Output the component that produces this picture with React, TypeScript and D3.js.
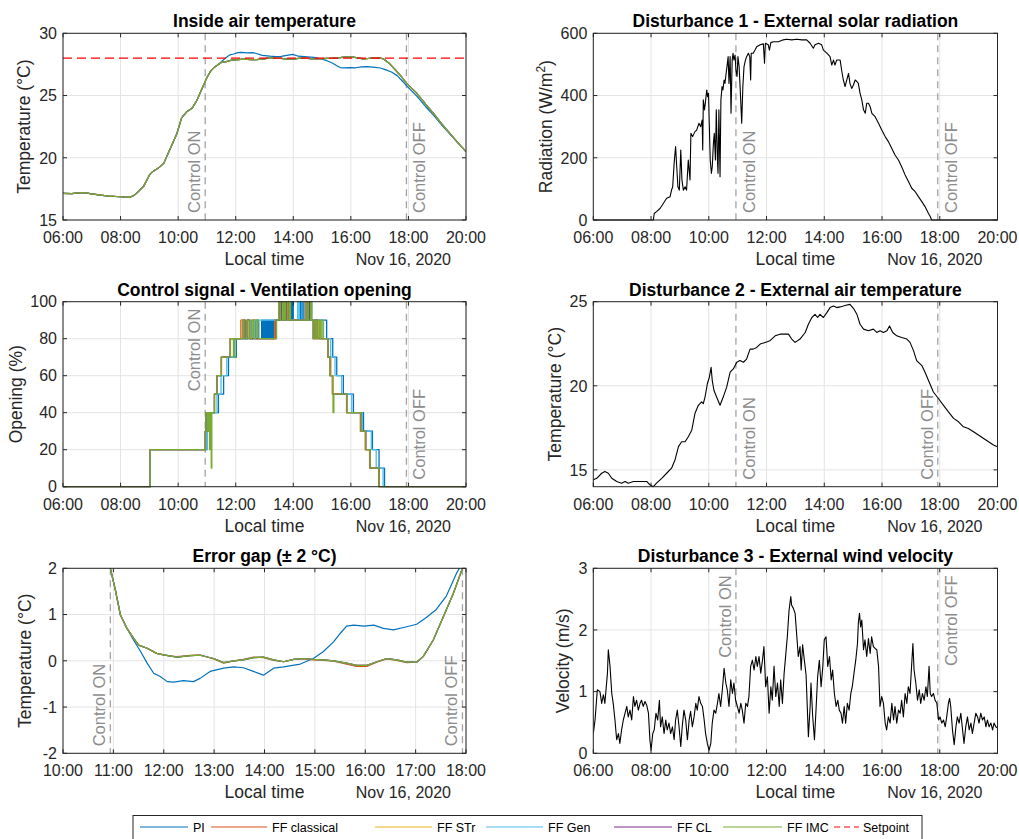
import React from 'react';
import * as d3 from 'd3';

// ---------- style constants ----------
const FONT = '"Liberation Sans", Arial, Helvetica, sans-serif';
const AX = '#262626';
const GRID = '#e4e4e4';
const CTRL = '#a3a3a3';
const COLORS = {
  PI: '#0072BD',
  classical: '#D95319',
  STr: '#EDB120',
  Gen: '#4DBEEE',
  CL: '#7E2F8E',
  IMC: '#77AC30',
  setpoint: '#FF0000',
};

// ---------- data ----------
type P = [number, number];
const hourTicks = [6, 8, 10, 12, 14, 16, 18, 20];
const errHourTicks = [10, 11, 12, 13, 14, 15, 16, 17, 18];
const tempTicks = [15, 20, 25, 30];
const radTicks = [0, 200, 400, 600];
const openTicks = [0, 20, 40, 60, 80, 100];
const extTempTicks = [15, 20, 25];
const errTicks = [-2, -1, 0, 1, 2];
const windTicks = [0, 1, 2, 3];
const controlOn = 10.94;
const controlOff = 17.93;
const setpoint = 28;
const dateLabel = 'Nov 16, 2020';

const legendNames = ['PI', 'FF classical', 'FF STr', 'FF Gen', 'FF CL', 'FF IMC', 'Setpoint'];

// Inside air temperature
const tempCommon: P[] = [
  [6.0, 17.14], [6.3, 17.12], [6.55, 17.18], [6.72, 17.2], [7.0, 17.1], [7.3, 17.0], [7.6, 16.92],
  [8.0, 16.87], [8.3, 16.82], [8.45, 16.95], [8.55, 17.14], [8.8, 17.7], [9.0, 18.6], [9.1, 18.85],
  [9.3, 19.15], [9.5, 19.55], [9.72, 20.7], [9.95, 21.9], [10.12, 23.2], [10.3, 23.7], [10.48, 23.97],
  [10.65, 24.6], [10.82, 25.5], [11.0, 26.45], [11.14, 27.0], [11.27, 27.3], [11.4, 27.5],
];
const tempFFTail: P[] = [
  [11.5, 27.66], [11.67, 27.73], [11.86, 27.84], [12.0, 27.87], [12.26, 27.92], [12.53, 27.89],
  [12.72, 27.88], [12.99, 27.95], [13.19, 28.04], [13.39, 28.0], [13.58, 27.98], [13.78, 27.93],
  [13.98, 27.92], [14.18, 27.98], [14.38, 28.02], [14.58, 27.97], [14.78, 27.95], [14.97, 27.97],
  [15.17, 27.98], [15.37, 28.0], [15.63, 28.05], [15.83, 28.1], [16.03, 28.1], [16.23, 28.02],
  [16.43, 27.95], [16.62, 27.98], [16.82, 28.03], [17.02, 28.03], [17.15, 27.91], [17.35, 27.55],
  [17.55, 27.05], [17.75, 26.54], [17.93, 26.0], [18.29, 25.18], [18.6, 24.3], [18.87, 23.57],
  [19.15, 22.75], [19.44, 21.96], [19.72, 21.2], [20.0, 20.49],
];
const tempPITail: P[] = [
  [11.54, 27.8], [11.67, 28.05], [11.8, 28.27], [11.93, 28.34], [12.07, 28.45], [12.2, 28.46],
  [12.39, 28.43], [12.59, 28.45], [12.72, 28.38], [12.92, 28.23], [13.19, 28.16], [13.39, 28.13],
  [13.58, 28.15], [13.78, 28.23], [13.98, 28.31], [14.18, 28.16], [14.38, 28.13], [14.71, 28.07],
  [14.97, 27.95], [15.17, 27.8], [15.37, 27.59], [15.5, 27.41], [15.63, 27.25], [15.77, 27.23],
  [15.97, 27.25], [16.17, 27.23], [16.36, 27.3], [16.56, 27.33], [16.76, 27.28], [17.02, 27.21],
  [17.22, 27.06], [17.41, 26.89], [17.61, 26.6], [17.81, 26.11], [17.93, 25.8], [18.29, 24.95],
  [18.6, 24.1], [18.87, 23.42], [19.15, 22.65], [19.44, 21.9], [19.72, 21.2], [20.0, 20.49],
];
const tempPI: P[] = [...tempCommon, ...tempPITail];
const tempFF: P[] = [...tempCommon, ...tempFFTail];
const setpointLine: P[] = [[6, setpoint], [20, setpoint]];

// External solar radiation (W/m2)
const radiation: P[] = [
  [6.0, 0], [8.08, 0], [8.11, 21], [8.19, 27], [8.31, 37], [8.43, 54], [8.54, 70], [8.66, 75], [8.71, 96],
  [8.75, 107], [8.8, 182], [8.85, 236], [8.89, 171], [8.93, 107], [8.98, 96], [9.03, 225], [9.07, 129],
  [9.12, 96], [9.18, 107], [9.23, 96], [9.29, 193], [9.35, 129], [9.38, 279], [9.44, 268], [9.52, 284],
  [9.58, 289], [9.66, 311], [9.72, 300], [9.77, 321], [9.79, 225], [9.81, 386], [9.85, 354], [9.88, 375],
  [9.93, 418], [9.96, 396], [9.99, 407], [10.02, 300], [10.05, 193], [10.09, 150], [10.12, 171],
  [10.16, 246], [10.19, 279], [10.23, 193], [10.26, 354], [10.3, 193], [10.32, 150], [10.35, 354],
  [10.39, 139], [10.42, 386], [10.46, 429], [10.49, 418], [10.53, 450], [10.56, 439], [10.6, 471],
  [10.63, 493], [10.67, 525], [10.7, 439], [10.74, 525], [10.77, 343], [10.81, 514], [10.84, 536],
  [10.87, 514], [10.91, 530], [10.94, 482], [10.98, 461], [11.01, 525], [11.05, 493], [11.09, 418],
  [11.14, 311], [11.18, 429], [11.22, 493], [11.27, 514], [11.31, 525], [11.37, 536], [11.42, 525],
  [11.45, 450], [11.47, 536], [11.54, 536], [11.6, 546], [11.66, 557], [11.78, 563], [11.89, 566],
  [11.93, 504], [11.96, 568], [12.06, 563], [12.1, 546], [12.15, 570], [12.24, 573], [12.41, 573],
  [12.58, 579], [12.7, 581], [12.87, 579], [13.05, 581], [13.22, 579], [13.39, 579], [13.51, 568],
  [13.62, 552], [13.68, 563], [13.8, 568], [13.91, 563], [13.97, 546], [14.09, 536], [14.2, 525],
  [14.26, 498], [14.32, 514], [14.37, 498], [14.43, 514], [14.55, 514], [14.6, 482], [14.66, 450],
  [14.72, 429], [14.78, 450], [14.84, 471], [14.89, 439], [14.95, 423], [15.01, 434], [15.07, 450],
  [15.13, 445], [15.18, 439], [15.24, 407], [15.3, 386], [15.36, 354], [15.42, 343], [15.47, 375],
  [15.53, 375], [15.59, 364], [15.65, 343], [15.76, 332], [15.88, 311], [15.99, 289], [16.11, 268],
  [16.22, 252], [16.34, 230], [16.45, 209], [16.57, 193], [16.68, 171], [16.8, 145], [16.92, 123],
  [17.03, 102], [17.15, 91], [17.26, 75], [17.38, 59], [17.49, 43], [17.61, 21], [17.67, 11],
  [17.72, 0], [20.0, 0],
];

// Control signal (ventilation opening %), step change points
const ctrlPI: P[] = [
  [6, 0], [9.03, 20], [11.0, 30], [11.05, 40], [11.1, 30], [11.13, 40], [11.4, 50], [11.58, 60],
  [11.75, 70], [12.02, 80], [12.62, 90], [12.68, 80], [12.75, 90], [12.8, 80], [12.9, 90], [12.93, 80],
  [12.96, 90], [12.99, 80], [13.02, 90], [13.05, 80], [13.08, 90], [13.11, 80], [13.14, 90], [13.17, 80],
  [13.2, 90], [13.23, 80], [13.26, 90], [13.29, 80], [13.32, 90], [13.89, 100], [13.94, 90], [13.97, 100],
  [14.0, 90], [14.24, 100], [14.28, 90], [14.32, 100], [14.36, 90], [14.4, 100], [14.46, 90], [14.5, 100],
  [14.56, 90], [14.6, 100], [14.64, 90], [15.16, 80], [15.37, 70], [15.51, 60], [15.74, 50], [16.09, 40],
  [16.44, 30], [16.75, 20], [16.98, 10], [17.17, 0], [20, 0],
];
const ctrlFFClassical: P[] = [
  [6, 0], [9.03, 20], [10.94, 30], [10.96, 40], [11.03, 30], [11.07, 40], [11.26, 50], [11.35, 60],
  [11.5, 70], [11.81, 80], [12.18, 90], [12.3, 80], [12.38, 90], [12.5, 80], [12.58, 90], [12.72, 80],
  [13.35, 90], [13.52, 100], [13.6, 90], [13.75, 100], [13.83, 90], [14.42, 100], [14.5, 90], [14.72, 80],
  [14.8, 90], [14.9, 80], [15.2, 70], [15.3, 60], [15.38, 50], [15.85, 40], [16.33, 30], [16.5, 20],
  [16.65, 10], [16.97, 0], [20, 0],
];
const ctrlFFSTr: P[] = [
  [6, 0], [9.03, 20], [10.95, 30], [10.97, 40], [11.04, 30], [11.08, 40], [11.27, 50], [11.36, 60],
  [11.51, 70], [11.82, 80], [12.22, 90], [12.34, 80], [12.42, 90], [12.52, 80], [12.6, 90], [12.74, 80],
  [13.38, 90], [13.5, 100], [13.58, 90], [14.45, 100], [14.52, 90], [14.7, 80], [14.85, 90], [14.95, 80],
  [15.2, 70], [15.29, 60], [15.37, 50], [15.86, 40], [16.35, 30], [16.51, 20], [16.66, 10], [16.98, 0],
  [20, 0],
];
const ctrlFFGen: P[] = [
  [6, 0], [9.03, 20], [10.97, 30], [11.0, 40], [11.08, 30], [11.12, 40], [11.35, 50], [11.49, 60],
  [11.69, 70], [11.92, 80], [12.4, 90], [12.5, 80], [12.56, 90], [12.64, 80], [12.72, 90], [13.6, 100],
  [13.66, 90], [14.15, 100], [14.2, 90], [14.3, 100], [14.38, 90], [15.05, 80], [15.3, 70], [15.45, 60],
  [15.68, 50], [16.03, 40], [16.4, 30], [16.71, 20], [16.88, 10], [17.12, 0], [20, 0],
];
const ctrlFFCL: P[] = [
  [6, 0], [9.03, 20], [10.94, 30], [10.96, 40], [11.02, 30], [11.05, 40], [11.26, 50], [11.35, 60],
  [11.5, 70], [11.81, 80], [12.25, 90], [12.33, 80], [12.41, 90], [12.48, 80], [13.4, 90], [13.54, 100],
  [13.58, 90], [13.7, 100], [13.78, 90], [14.48, 100], [14.55, 90], [14.69, 80], [14.76, 90],
  [14.82, 80], [15.21, 70], [15.27, 60], [15.36, 50], [15.86, 40], [16.36, 30], [16.52, 20],
  [16.67, 10], [16.98, 0], [20, 0],
];
const ctrlFFIMC: P[] = [
  [6, 0], [9.03, 20], [10.94, 30], [10.96, 40], [11.02, 30], [11.05, 40], [11.09, 20], [11.12, 40],
  [11.15, 10], [11.17, 40], [11.26, 50], [11.35, 60], [11.5, 70], [11.81, 80], [11.93, 70], [11.96, 80],
  [12.24, 90], [12.32, 80], [12.4, 90], [12.47, 80], [12.55, 90], [12.62, 80], [12.7, 90], [12.78, 80],
  [13.42, 90], [13.49, 100], [13.55, 90], [13.64, 100], [13.68, 90], [13.72, 100], [13.8, 90],
  [13.86, 100], [13.9, 90], [14.47, 100], [14.52, 90], [14.6, 100], [14.64, 90], [14.69, 80],
  [14.75, 90], [14.8, 80], [14.86, 90], [14.92, 80], [14.97, 90], [15.03, 80], [15.21, 70], [15.27, 60],
  [15.36, 50], [15.38, 40], [15.41, 50], [15.86, 40], [16.36, 30], [16.52, 20], [16.67, 10],
  [16.98, 0], [20, 0],
];

// External air temperature
const extTemp: P[] = [
  [6.0, 14.41], [6.12, 14.5], [6.29, 14.8], [6.4, 14.9], [6.52, 14.8], [6.64, 14.5], [6.81, 14.31],
  [6.98, 14.21], [7.1, 14.31], [7.21, 14.21], [7.39, 14.31], [7.62, 14.31], [7.85, 14.31], [7.96, 14.11],
  [8.08, 14.0], [8.19, 14.21], [8.37, 14.5], [8.54, 14.8], [8.71, 15.1], [8.83, 15.59], [8.95, 16.38],
  [9.06, 16.67], [9.18, 16.67], [9.29, 16.97], [9.41, 17.36], [9.52, 18.35], [9.64, 18.84],
  [9.75, 19.04], [9.81, 18.94], [9.87, 19.33], [9.95, 20.12], [10.02, 20.51], [10.08, 21.1],
  [10.12, 20.31], [10.18, 19.72], [10.27, 19.33], [10.39, 18.84], [10.5, 19.33], [10.62, 19.92],
  [10.74, 20.81], [10.85, 21.0], [10.97, 21.4], [11.08, 21.5], [11.2, 21.4], [11.31, 21.59],
  [11.43, 22.18], [11.54, 22.18], [11.66, 22.28], [11.78, 22.48], [11.95, 22.58], [12.12, 22.68],
  [12.3, 22.97], [12.47, 23.07], [12.64, 23.07], [12.76, 23.07], [12.87, 22.78], [12.99, 22.58],
  [13.16, 22.78], [13.34, 23.17], [13.45, 23.66], [13.57, 24.06], [13.68, 24.25], [13.77, 24.06],
  [13.85, 24.25], [13.97, 24.06], [14.09, 24.35], [14.2, 24.65], [14.32, 24.74], [14.43, 24.65],
  [14.55, 24.69], [14.66, 24.74], [14.78, 24.8], [14.89, 24.84], [15.01, 24.61], [15.13, 24.25],
  [15.24, 23.66], [15.36, 23.37], [15.53, 23.27], [15.7, 23.37], [15.82, 23.17], [15.93, 23.27],
  [16.05, 23.17], [16.17, 23.27], [16.26, 23.56], [16.37, 23.17], [16.51, 22.97], [16.68, 22.87],
  [16.86, 22.78], [16.97, 22.58], [17.09, 22.09], [17.2, 21.5], [17.38, 21.2], [17.49, 20.81],
  [17.61, 20.31], [17.78, 19.63], [17.96, 19.23], [18.13, 18.84], [18.3, 18.45], [18.48, 18.06],
  [18.65, 17.86], [18.82, 17.56], [18.99, 17.46], [19.17, 17.27], [19.34, 17.07], [19.52, 16.87],
  [19.69, 16.67], [19.86, 16.48], [20.0, 16.38],
];

// Error gap (setpoint - inside temperature)
const errPI: P[] = [
  [10.94, 2.0], [11.04, 1.53], [11.14, 0.99], [11.27, 0.7], [11.4, 0.45], [11.54, 0.2], [11.67, -0.05],
  [11.8, -0.27], [11.93, -0.34], [12.07, -0.45], [12.2, -0.46], [12.39, -0.43], [12.59, -0.45],
  [12.72, -0.38], [12.92, -0.23], [13.19, -0.16], [13.39, -0.13], [13.58, -0.15], [13.78, -0.23],
  [13.98, -0.31], [14.18, -0.16], [14.38, -0.13], [14.71, -0.07], [14.97, 0.05], [15.17, 0.2],
  [15.37, 0.41], [15.5, 0.59], [15.63, 0.75], [15.77, 0.77], [15.97, 0.75], [16.17, 0.77],
  [16.36, 0.7], [16.56, 0.67], [16.76, 0.72], [17.02, 0.79], [17.22, 0.94], [17.41, 1.11],
  [17.61, 1.4], [17.81, 1.89], [17.87, 2.0],
];
const errFF: P[] = [
  [10.94, 2.0], [11.04, 1.53], [11.14, 0.99], [11.27, 0.7], [11.4, 0.49], [11.5, 0.34], [11.67, 0.27],
  [11.86, 0.16], [12.0, 0.13], [12.26, 0.08], [12.53, 0.11], [12.72, 0.12], [12.99, 0.05],
  [13.19, -0.04], [13.39, 0.0], [13.58, 0.02], [13.78, 0.07], [13.98, 0.08], [14.18, 0.02],
  [14.38, -0.02], [14.58, 0.03], [14.77, 0.05], [14.97, 0.03], [15.17, 0.02], [15.37, 0.0],
  [15.63, -0.05], [15.83, -0.1], [16.03, -0.1], [16.23, -0.02], [16.43, 0.05], [16.62, 0.02],
  [16.82, -0.03], [17.02, -0.03], [17.15, 0.09], [17.35, 0.45], [17.55, 0.95], [17.75, 1.46],
  [17.93, 2.0],
];
const errFFClassical: P[] = [
  [10.94, 2.0], [11.04, 1.53], [11.14, 0.99], [11.27, 0.7], [11.4, 0.49], [11.5, 0.34], [11.67, 0.27],
  [11.86, 0.16], [12.0, 0.12], [12.26, 0.09], [12.53, 0.12], [12.72, 0.13], [12.99, 0.04],
  [13.19, -0.05], [13.39, 0.0], [13.58, 0.03], [13.78, 0.08], [13.98, 0.07], [14.18, 0.01],
  [14.38, -0.02], [14.58, 0.03], [14.77, 0.04], [14.97, 0.02], [15.17, 0.01], [15.37, -0.01],
  [15.63, -0.07], [15.83, -0.12], [16.03, -0.12], [16.23, -0.03], [16.43, 0.04], [16.62, 0.01],
  [16.82, -0.04], [17.02, -0.03], [17.15, 0.09], [17.35, 0.45], [17.55, 0.95], [17.75, 1.46],
  [17.93, 2.0],
];

// External wind velocity (m/s)
const wind: P[] = [
  [6.0, 0.32], [6.06, 0.54], [6.14, 1.03], [6.23, 1.0], [6.29, 0.81], [6.35, 0.95], [6.4, 0.81],
  [6.49, 1.3], [6.52, 1.68], [6.58, 1.41], [6.64, 0.97], [6.69, 0.81], [6.75, 0.54], [6.81, 0.22],
  [6.87, 0.32], [6.92, 0.16], [6.98, 0.38], [7.04, 0.54], [7.1, 0.65], [7.16, 0.76], [7.21, 0.59],
  [7.27, 0.7], [7.33, 0.54], [7.39, 0.92], [7.44, 0.76], [7.5, 0.86], [7.56, 0.7], [7.62, 0.81],
  [7.67, 0.86], [7.73, 0.76], [7.79, 0.84], [7.85, 0.78], [7.91, 0.65], [7.96, 0.22], [8.0, 0.05],
  [8.06, 0.32], [8.11, 0.38], [8.17, 0.65], [8.23, 0.54], [8.29, 0.86], [8.33, 0.43], [8.39, 0.59],
  [8.45, 0.32], [8.51, 0.54], [8.56, 0.38], [8.62, 0.49], [8.68, 0.32], [8.74, 0.43], [8.8, 0.22],
  [8.85, 0.54], [8.91, 0.7], [8.97, 0.43], [9.03, 0.11], [9.08, 0.43], [9.14, 0.7], [9.2, 0.54],
  [9.26, 0.22], [9.32, 0.54], [9.37, 0.68], [9.43, 0.43], [9.49, 0.59], [9.55, 0.81], [9.6, 0.7],
  [9.66, 0.92], [9.72, 0.81], [9.78, 0.76], [9.84, 0.54], [9.89, 0.32], [9.95, 0.16], [10.01, 0.05],
  [10.07, 0.16], [10.12, 0.49], [10.18, 0.7], [10.24, 0.65], [10.3, 0.81], [10.35, 0.97], [10.41, 0.76],
  [10.47, 1.03], [10.53, 1.38], [10.59, 1.14], [10.64, 1.03], [10.7, 0.76], [10.76, 1.19], [10.82, 0.97],
  [10.87, 1.14], [10.93, 0.86], [10.99, 0.76], [11.05, 0.65], [11.11, 0.81], [11.16, 0.7], [11.22, 0.49],
  [11.28, 0.81], [11.34, 0.76], [11.39, 0.92], [11.45, 1.41], [11.51, 1.51], [11.57, 1.35], [11.63, 1.57],
  [11.68, 1.41], [11.74, 1.57], [11.8, 1.3], [11.86, 1.51], [11.91, 1.73], [11.97, 1.08], [12.03, 1.24],
  [12.09, 0.65], [12.15, 1.08], [12.2, 0.86], [12.26, 1.41], [12.32, 0.92], [12.38, 1.14], [12.44, 0.76],
  [12.49, 1.19], [12.55, 0.81], [12.61, 1.3], [12.67, 1.62], [12.72, 1.89], [12.78, 2.32], [12.84, 2.54],
  [12.87, 2.4], [12.93, 2.35], [12.99, 2.27], [13.05, 1.89], [13.1, 1.57], [13.16, 1.73], [13.2, 1.35],
  [13.25, 1.76], [13.31, 1.51], [13.37, 1.27], [13.45, 0.27], [13.51, 0.76], [13.54, 1.14], [13.6, 0.59],
  [13.66, 0.22], [13.72, 0.76], [13.77, 1.24], [13.83, 1.51], [13.89, 1.08], [13.95, 1.41], [14.0, 1.84],
  [14.06, 1.89], [14.12, 1.41], [14.18, 1.57], [14.24, 1.19], [14.29, 1.35], [14.35, 0.97], [14.41, 0.76],
  [14.47, 0.86], [14.52, 0.7], [14.58, 0.65], [14.63, 0.49], [14.69, 0.76], [14.74, 0.49], [14.8, 0.81],
  [14.86, 0.7], [14.92, 0.97], [14.97, 1.08], [15.03, 1.3], [15.09, 1.51], [15.15, 1.78], [15.18, 2.11],
  [15.22, 2.27], [15.26, 2.05], [15.3, 2.16], [15.36, 1.68], [15.41, 1.84], [15.47, 1.57], [15.53, 1.86],
  [15.59, 1.62], [15.64, 1.89], [15.7, 1.73], [15.76, 1.7], [15.82, 1.68], [15.88, 1.41], [15.93, 0.76],
  [15.99, 0.92], [16.05, 0.81], [16.11, 0.49], [16.16, 0.38], [16.22, 0.59], [16.28, 0.49], [16.34, 0.81],
  [16.4, 0.54], [16.45, 0.76], [16.51, 0.49], [16.57, 0.7], [16.63, 0.65], [16.68, 0.86], [16.74, 0.59],
  [16.8, 0.97], [16.86, 0.81], [16.91, 1.08], [16.97, 0.97], [17.03, 1.46], [17.07, 1.78], [17.11, 1.35],
  [17.17, 1.14], [17.23, 0.86], [17.29, 1.03], [17.34, 0.81], [17.4, 0.97], [17.46, 0.86], [17.52, 1.08],
  [17.57, 0.92], [17.63, 1.41], [17.67, 0.97], [17.72, 0.92], [17.78, 0.97], [17.84, 0.86], [17.9, 0.81],
  [17.96, 0.54], [18.01, 0.59], [18.07, 0.49], [18.13, 0.54], [18.19, 0.43], [18.24, 0.59], [18.3, 0.81],
  [18.34, 0.89], [18.38, 0.76], [18.44, 0.38], [18.5, 0.14], [18.56, 0.43], [18.61, 0.59], [18.67, 0.49],
  [18.73, 0.65], [18.79, 0.38], [18.84, 0.16], [18.9, 0.43], [18.96, 0.59], [19.02, 0.38], [19.08, 0.49],
  [19.13, 0.32], [19.19, 0.49], [19.25, 0.65], [19.31, 0.59], [19.36, 0.49], [19.42, 0.65], [19.48, 0.54],
  [19.54, 0.59], [19.6, 0.43], [19.65, 0.54], [19.71, 0.43], [19.77, 0.49], [19.83, 0.38], [19.88, 0.49],
  [19.94, 0.43], [20.0, 0.41],
];

// ---------- helpers ----------
const fmtHM = (h: number) => {
  const hh = Math.floor(h + 1e-9);
  const mm = Math.round((h - hh) * 60);
  return `${String(hh).padStart(2, '0')}:${String(mm).padStart(2, '0')}`;
};

type Series = { data: P[]; color: string; width?: number; dash?: string; step?: boolean };
type CtrlPos = { side: 'left' | 'right'; v: 'top' | 'bottom' };
type Box = { l: number; r: number; t: number; b: number };

const L_COL = { l: 63, r: 466 };
const R_COL = { l: 593.3, r: 997.5 };
const ROWS = [
  { t: 33.3, b: 220 },
  { t: 301.7, b: 486.7 },
  { t: 568.3, b: 753.3 },
];

function Panel(props: {
  id: string;
  box: Box;
  xDomain: [number, number];
  yDomain: [number, number];
  xTicks: number[];
  yTicks: number[];
  title: React.ReactNode;
  ylabel: React.ReactNode;
  ylabelOffset: number;
  series: Series[];
  on: CtrlPos;
  off: CtrlPos;
}) {
  const { id, box, xDomain, yDomain, xTicks, yTicks, title, ylabel, ylabelOffset, series, on, off } = props;
  const x = d3.scaleLinear().domain(xDomain).range([box.l, box.r]);
  const y = d3.scaleLinear().domain(yDomain).range([box.b, box.t]);
  const tl = 4;
  const cx = (box.l + box.r) / 2;
  const cy = (box.t + box.b) / 2;

  const ctrlText = (label: string, t: number, pos: CtrlPos) => {
    const lx = x(t);
    const bx = pos.side === 'left' ? lx - 5 : lx + 19;
    const by = pos.v === 'bottom' ? box.b - 7 : box.t + 7;
    return (
      <text
        transform={`translate(${bx},${by}) rotate(-90)`}
        textAnchor={pos.v === 'bottom' ? 'start' : 'end'}
        fontSize={16.5}
        fill="#8c8c8c"
      >
        {label}
      </text>
    );
  };

  return (
    <g fontFamily={FONT}>
      <defs>
        <clipPath id={id}>
          <rect x={box.l} y={box.t - 1} width={box.r - box.l} height={box.b - box.t + 2} />
        </clipPath>
      </defs>
      {/* grid */}
      <g stroke={GRID} strokeWidth={1}>
        {xTicks.map((t) => (
          <line key={'gx' + t} x1={x(t)} x2={x(t)} y1={box.t} y2={box.b} />
        ))}
        {yTicks.map((v) => (
          <line key={'gy' + v} x1={box.l} x2={box.r} y1={y(v)} y2={y(v)} />
        ))}
      </g>
      {/* control on/off lines */}
      <g stroke={CTRL} strokeWidth={1.3} strokeDasharray="7,5">
        <line x1={x(controlOn)} x2={x(controlOn)} y1={box.t} y2={box.b} />
        <line x1={x(controlOff)} x2={x(controlOff)} y1={box.t} y2={box.b} />
      </g>
      {ctrlText('Control ON', controlOn, on)}
      {ctrlText('Control OFF', controlOff, off)}
      {/* series */}
      <g clipPath={`url(#${id})`} fill="none">
        {series.map((s, i) => {
          const gen = d3
            .line<P>()
            .x((d) => x(d[0]))
            .y((d) => y(d[1]))
            .curve(s.step ? d3.curveStepAfter : d3.curveLinear);
          return (
            <path
              key={i}
              d={gen(s.data) || ''}
              stroke={s.color}
              strokeWidth={s.width ?? 1.2}
              strokeDasharray={s.dash}
              strokeLinejoin="round"
            />
          );
        })}
      </g>
      {/* axes box and ticks */}
      <rect x={box.l} y={box.t} width={box.r - box.l} height={box.b - box.t} fill="none" stroke={AX} strokeWidth={1} />
      <g stroke={AX} strokeWidth={1}>
        {xTicks.map((t) => (
          <g key={'tx' + t}>
            <line x1={x(t)} x2={x(t)} y1={box.b} y2={box.b - tl} />
            <line x1={x(t)} x2={x(t)} y1={box.t} y2={box.t + tl} />
          </g>
        ))}
        {yTicks.map((v) => (
          <g key={'ty' + v}>
            <line x1={box.l} x2={box.l + tl} y1={y(v)} y2={y(v)} />
            <line x1={box.r} x2={box.r - tl} y1={y(v)} y2={y(v)} />
          </g>
        ))}
      </g>
      {/* tick labels */}
      <g fill={AX} fontSize={16}>
        {xTicks.map((t) => (
          <text key={'lx' + t} x={x(t)} y={box.b + 23} textAnchor="middle">
            {fmtHM(t)}
          </text>
        ))}
        {yTicks.map((v) => (
          <text key={'ly' + v} x={box.l - 6} y={y(v)} dy="0.36em" textAnchor="end">
            {String(v)}
          </text>
        ))}
        <text x={box.r - 15} y={box.b + 45} textAnchor="end">
          {dateLabel}
        </text>
      </g>
      <text x={cx} y={box.b + 45} textAnchor="middle" fontSize={17.5} fill={AX}>
        Local time
      </text>
      <text
        transform={`translate(${box.l - ylabelOffset},${cy}) rotate(-90)`}
        textAnchor="middle"
        fontSize={17.5}
        fill={AX}
      >
        {ylabel}
      </text>
      <text x={cx} y={box.t - 6} textAnchor="middle" fontSize={17.5} fontWeight="bold" fill="#000">
        {title}
      </text>
    </g>
  );
}

function Legend() {
  const y = 827;
  const items = [
    { name: legendNames[0], color: COLORS.PI, l1: 140, l2: 188, tx: 193, dash: undefined as string | undefined },
    { name: legendNames[1], color: COLORS.classical, l1: 211, l2: 267, tx: 272, dash: undefined },
    { name: legendNames[2], color: COLORS.STr, l1: 375, l2: 432, tx: 437, dash: undefined },
    { name: legendNames[3], color: COLORS.Gen, l1: 486, l2: 543, tx: 548, dash: undefined },
    { name: legendNames[4], color: COLORS.CL, l1: 614, l2: 672, tx: 677, dash: undefined },
    { name: legendNames[5], color: COLORS.IMC, l1: 723, l2: 782, tx: 787, dash: undefined },
    { name: legendNames[6], color: COLORS.setpoint, l1: 834, l2: 859, tx: 863, dash: '6,4' },
  ];
  return (
    <g fontFamily={FONT}>
      <rect x={133} y={815.5} width={789} height={24} fill="#fff" stroke={AX} strokeWidth={1} />
      {items.map((it) => (
        <g key={it.name}>
          <line x1={it.l1} x2={it.l2} y1={y} y2={y} stroke={it.color} strokeWidth={1.2} strokeDasharray={it.dash} />
          <text x={it.tx} y={y + 4.5} fontSize={12.5} fill="#000">
            {it.name}
          </text>
        </g>
      ))}
    </g>
  );
}

export default function App() {
  const ffSet = (data: P[], step = false): Series[] => [
    { data, color: COLORS.classical, step },
    { data, color: COLORS.STr, step },
    { data, color: COLORS.Gen, step },
    { data, color: COLORS.CL, step },
    { data, color: COLORS.IMC, step },
  ];
  const tempSeries: Series[] = [
    { data: tempPI, color: COLORS.PI },
    ...ffSet(tempFF),
    { data: setpointLine, color: COLORS.setpoint, dash: '9,5', width: 1.3 },
  ];
  const ctrlSeries: Series[] = [
    { data: ctrlPI, color: COLORS.PI, step: true, width: 1.3 },
    { data: ctrlFFClassical, color: COLORS.classical, step: true, width: 1.3 },
    { data: ctrlFFSTr, color: COLORS.STr, step: true, width: 1.3 },
    { data: ctrlFFGen, color: COLORS.Gen, step: true, width: 1.3 },
    { data: ctrlFFCL, color: COLORS.CL, step: true, width: 1.3 },
    { data: ctrlFFIMC, color: COLORS.IMC, step: true, width: 1.3 },
  ];
  const errSeries: Series[] = [
    { data: errPI, color: COLORS.PI },
    { data: errFFClassical, color: COLORS.classical },
    { data: errFF, color: COLORS.STr },
    { data: errFF, color: COLORS.Gen },
    { data: errFF, color: COLORS.CL },
    { data: errFF, color: COLORS.IMC },
  ];
  const lb = (row: number, col: { l: number; r: number }): Box => ({ l: col.l, r: col.r, t: ROWS[row].t, b: ROWS[row].b });

  return (
    <svg
      width={1019}
      height={839}
      viewBox="0 0 1019 839"
      style={{ position: 'absolute', left: 0, top: 0, background: '#fff' }}
    >
      <rect x={0} y={0} width={1019} height={839} fill="#fff" />
      <Panel
        id="c1"
        box={lb(0, L_COL)}
        xDomain={[6, 20]}
        yDomain={[15, 30]}
        xTicks={hourTicks}
        yTicks={tempTicks}
        title="Inside air temperature"
        ylabel="Temperature (°C)"
        ylabelOffset={33}
        series={tempSeries}
        on={{ side: 'left', v: 'bottom' }}
        off={{ side: 'right', v: 'bottom' }}
      />
      <Panel
        id="c2"
        box={lb(0, R_COL)}
        xDomain={[6, 20]}
        yDomain={[0, 600]}
        xTicks={hourTicks}
        yTicks={radTicks}
        title="Disturbance 1 - External solar radiation"
        ylabel={
          <>
            Radiation (W/m<tspan dy={-7} fontSize={12}>2</tspan>
            <tspan dy={7}>)</tspan>
          </>
        }
        ylabelOffset={41}
        series={[{ data: radiation, color: '#000', width: 1.1 }]}
        on={{ side: 'right', v: 'bottom' }}
        off={{ side: 'right', v: 'bottom' }}
      />
      <Panel
        id="c3"
        box={lb(1, L_COL)}
        xDomain={[6, 20]}
        yDomain={[0, 100]}
        xTicks={hourTicks}
        yTicks={openTicks}
        title="Control signal - Ventilation opening"
        ylabel="Opening (%)"
        ylabelOffset={41}
        series={ctrlSeries}
        on={{ side: 'left', v: 'top' }}
        off={{ side: 'right', v: 'bottom' }}
      />
      <Panel
        id="c4"
        box={lb(1, R_COL)}
        xDomain={[6, 20]}
        yDomain={[14, 25]}
        xTicks={hourTicks}
        yTicks={extTempTicks}
        title="Disturbance 2 - External air temperature"
        ylabel="Temperature (°C)"
        ylabelOffset={32}
        series={[{ data: extTemp, color: '#000', width: 1.1 }]}
        on={{ side: 'right', v: 'bottom' }}
        off={{ side: 'left', v: 'bottom' }}
      />
      <Panel
        id="c5"
        box={lb(2, L_COL)}
        xDomain={[10, 18]}
        yDomain={[-2, 2]}
        xTicks={errHourTicks}
        yTicks={errTicks}
        title="Error gap (± 2 °C)"
        ylabel="Temperature (°C)"
        ylabelOffset={32}
        series={errSeries}
        on={{ side: 'left', v: 'bottom' }}
        off={{ side: 'left', v: 'bottom' }}
      />
      <Panel
        id="c6"
        box={lb(2, R_COL)}
        xDomain={[6, 20]}
        yDomain={[0, 3]}
        xTicks={hourTicks}
        yTicks={windTicks}
        title="Disturbance 3 - External wind velocity"
        ylabel="Velocity (m/s)"
        ylabelOffset={24}
        series={[{ data: wind, color: '#000', width: 1.1 }]}
        on={{ side: 'left', v: 'top' }}
        off={{ side: 'right', v: 'top' }}
      />
      <Legend />
    </svg>
  );
}
